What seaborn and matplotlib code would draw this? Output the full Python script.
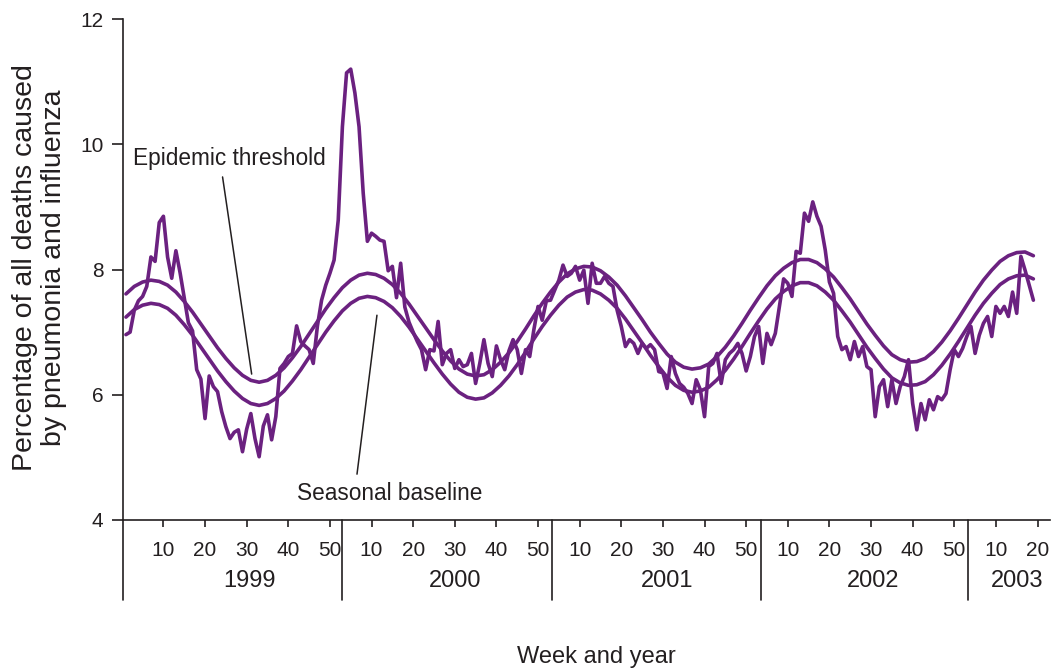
import numpy as np
import matplotlib
matplotlib.use('Agg')
import matplotlib.pyplot as plt
import seaborn as sns

# weekly percentage of deaths from P&I, week index 1 = 1999 week 1
observed = [
    6.96, 7.00, 7.35, 7.50, 7.57, 7.73, 8.20, 8.13, 8.75, 8.85,
    8.20, 7.86, 8.30, 7.95, 7.55, 7.15, 7.02, 6.40, 6.25, 5.62,
    6.30, 6.13, 6.05, 5.73, 5.49, 5.30, 5.40, 5.44, 5.09, 5.45,
    5.70, 5.30, 5.01, 5.50, 5.68, 5.28, 5.65, 6.42, 6.50, 6.61,
    6.66, 7.10, 6.85, 6.78, 6.72, 6.50, 7.10, 7.51, 7.75, 7.94,
    8.15, 8.79, 10.28, 11.14, 11.20, 10.82, 10.28, 9.22, 8.45, 8.58,
    8.53, 8.47, 8.45, 7.98, 8.05, 7.55, 8.10, 7.40, 7.16, 7.00,
    6.85, 6.72, 6.40, 6.72, 6.70, 7.17, 6.48, 6.66, 6.72, 6.42,
    6.56, 6.45, 6.48, 6.66, 6.18, 6.50, 6.88, 6.50, 6.29, 6.78,
    6.56, 6.40, 6.70, 6.88, 6.72, 6.34, 6.72, 6.61, 7.04, 7.41,
    7.19, 7.50, 7.51, 7.67, 7.83, 8.07, 7.89, 7.94, 8.05, 7.83,
    7.99, 7.46, 8.10, 7.78, 7.78, 7.89, 7.78, 7.73, 7.35, 7.09,
    6.77, 6.88, 6.82, 6.66, 6.82, 6.74, 6.80, 6.72, 6.37, 6.35,
    6.10, 6.61, 6.34, 6.18, 6.12, 6.02, 5.86, 6.24, 6.08, 5.65,
    6.45, 6.50, 6.66, 6.18, 6.56, 6.66, 6.72, 6.82, 6.66, 6.38,
    6.61, 6.93, 7.09, 6.50, 6.98, 6.80, 6.98, 7.41, 7.85, 7.78,
    7.57, 8.29, 8.26, 8.90, 8.77, 9.08, 8.85, 8.69, 8.31, 7.80,
    7.62, 6.93, 6.72, 6.77, 6.56, 6.85, 6.61, 6.77, 6.45, 6.40,
    5.65, 6.13, 6.24, 5.81, 6.24, 5.86, 6.13, 6.29, 6.56, 5.86,
    5.44, 5.86, 5.60, 5.92, 5.76, 5.97, 5.92, 6.02, 6.40, 6.72,
    6.61, 6.74, 6.93, 7.09, 6.66, 6.95, 7.14, 7.25, 6.93, 7.41,
    7.30, 7.41, 7.25, 7.64, 7.30, 8.21, 7.99, 7.75, 7.51,
]
weeks = np.arange(1, len(observed) + 1)

# smooth curves read every 2 weeks (odd week indices)
curve_weeks = list(range(1, 220, 2))
baseline = [
    7.24, 7.36, 7.43, 7.46, 7.44, 7.38, 7.27, 7.12, 6.95, 6.76,
    6.57, 6.38, 6.21, 6.06, 5.94, 5.86, 5.83, 5.86, 5.94, 6.06,
    6.22, 6.40, 6.60, 6.80, 7.00, 7.18, 7.34, 7.46, 7.54, 7.57,
    7.55, 7.49, 7.39, 7.25, 7.08, 6.89, 6.70, 6.51, 6.33, 6.17,
    6.04, 5.96, 5.93, 5.95, 6.03, 6.15, 6.30, 6.48, 6.68, 6.89,
    7.09, 7.27, 7.43, 7.56, 7.64, 7.68, 7.67, 7.61, 7.51, 7.38,
    7.21, 7.02, 6.83, 6.63, 6.45, 6.28, 6.15, 6.07, 6.04, 6.06,
    6.12, 6.24, 6.39, 6.57, 6.77, 6.98, 7.18, 7.37, 7.53, 7.65,
    7.74, 7.79, 7.79, 7.74, 7.64, 7.51, 7.34, 7.16, 6.96, 6.76,
    6.58, 6.41, 6.27, 6.19, 6.15, 6.16, 6.21, 6.32, 6.47, 6.65,
    6.85, 7.06, 7.27, 7.46, 7.62, 7.76, 7.85, 7.90, 7.91, 7.85,
]
threshold = [
    7.61, 7.73, 7.80, 7.83, 7.81, 7.75, 7.64, 7.49, 7.32, 7.13,
    6.94, 6.75, 6.58, 6.43, 6.31, 6.23, 6.20, 6.23, 6.31, 6.43,
    6.59, 6.77, 6.97, 7.17, 7.37, 7.55, 7.71, 7.83, 7.91, 7.94,
    7.92, 7.86, 7.76, 7.62, 7.45, 7.26, 7.07, 6.88, 6.70, 6.54,
    6.41, 6.33, 6.30, 6.32, 6.40, 6.52, 6.67, 6.85, 7.05, 7.26,
    7.46, 7.64, 7.80, 7.93, 8.01, 8.05, 8.04, 7.98, 7.88, 7.75,
    7.58, 7.39, 7.20, 7.00, 6.82, 6.65, 6.52, 6.44, 6.41, 6.43,
    6.49, 6.61, 6.76, 6.94, 7.14, 7.35, 7.55, 7.74, 7.90, 8.02,
    8.11, 8.16, 8.16, 8.11, 8.01, 7.88, 7.71, 7.53, 7.33, 7.13,
    6.95, 6.78, 6.64, 6.56, 6.52, 6.53, 6.58, 6.69, 6.84, 7.02,
    7.22, 7.43, 7.64, 7.83, 7.99, 8.13, 8.22, 8.27, 8.28, 8.22,
]

# axis labelling
week_ticks = list(range(10, 221, 10))
week_labels = ['10', '20', '30', '40', '50'] * 4 + ['10', '20']
year_names = ['1999', '2000', '2001', '2002', '2003']
year_label_pos = [30.8, 80.1, 131.0, 180.5, 215.1]
year_bounds = [0.3, 52.8, 103.3, 153.5, 203.4]

purple = '#6B2180'
ink = '#231F20'

sns.set_style('ticks')
plt.rcParams['font.family'] = ['Liberation Sans', 'DejaVu Sans']

fig = plt.figure(figsize=(10.57, 6.72), dpi=100)
ax = fig.add_axes([0.1164, 0.2262, 0.8770, 0.7455])

lw = 2.6
sns.lineplot(x=curve_weeks, y=threshold, ax=ax, color=purple, lw=lw,
             sort=False, estimator=None)
sns.lineplot(x=curve_weeks, y=baseline, ax=ax, color=purple, lw=lw,
             sort=False, estimator=None)
sns.lineplot(x=weeks, y=observed, ax=ax, color=purple, lw=lw,
             sort=False, estimator=None)
for ln in ax.lines:
    ln.set_solid_joinstyle('round')
    ln.set_solid_capstyle('round')

ax.set_xlim(0.3, 223.0)
ax.set_ylim(4, 12)
ax.set_yticks([4, 6, 8, 10, 12])
ax.set_xticks(week_ticks)
ax.set_xticklabels(week_labels)
ax.set_xlabel('')
ax.set_ylabel('')

for side in ['top', 'right']:
    ax.spines[side].set_visible(False)
for side in ['left', 'bottom']:
    ax.spines[side].set_color(ink)
    ax.spines[side].set_linewidth(1.2)

ax.tick_params(axis='y', direction='out', length=8, width=1.2,
               labelsize=15, pad=6, colors=ink)
ax.tick_params(axis='x', direction='out', length=5, width=1.2,
               labelsize=15, pad=10, colors=ink)

# year row under the week labels
xt = ax.get_xaxis_transform()
for b in year_bounds:
    ax.plot([b, b], [0, -0.16], transform=xt, color=ink, lw=1.2,
            clip_on=False)
for name, pos in zip(year_names, year_label_pos):
    ax.text(pos, -0.122, name, transform=xt, ha='center', va='center',
            fontsize=17, color=ink)

fig.text(0.5643, 0.0223, 'Week and year', ha='center', va='center',
         fontsize=17, color=ink)
fig.text(0.037, 0.602, 'Percentage of all deaths caused\nby pneumonia and influenza',
         rotation=90, ha='center', va='center', fontsize=20.5, color=ink,
         linespacing=1.15, multialignment='center')

# curve labels with leader lines
ax.annotate('Epidemic threshold', xy=(31.2, 6.33), xytext=(25.8, 9.78),
            ha='center', va='center', fontsize=16.3, color=ink,
            arrowprops=dict(arrowstyle='-', color=ink, lw=1.1,
                            relpos=(0.46, 0.0), shrinkA=3, shrinkB=0))
ax.annotate('Seasonal baseline', xy=(61.3, 7.27), xytext=(64.3, 4.43),
            ha='center', va='center', fontsize=16.3, color=ink,
            arrowprops=dict(arrowstyle='-', color=ink, lw=1.1,
                            relpos=(0.32, 1.0), shrinkA=3, shrinkB=0))

fig.savefig('out.png', dpi=100)
